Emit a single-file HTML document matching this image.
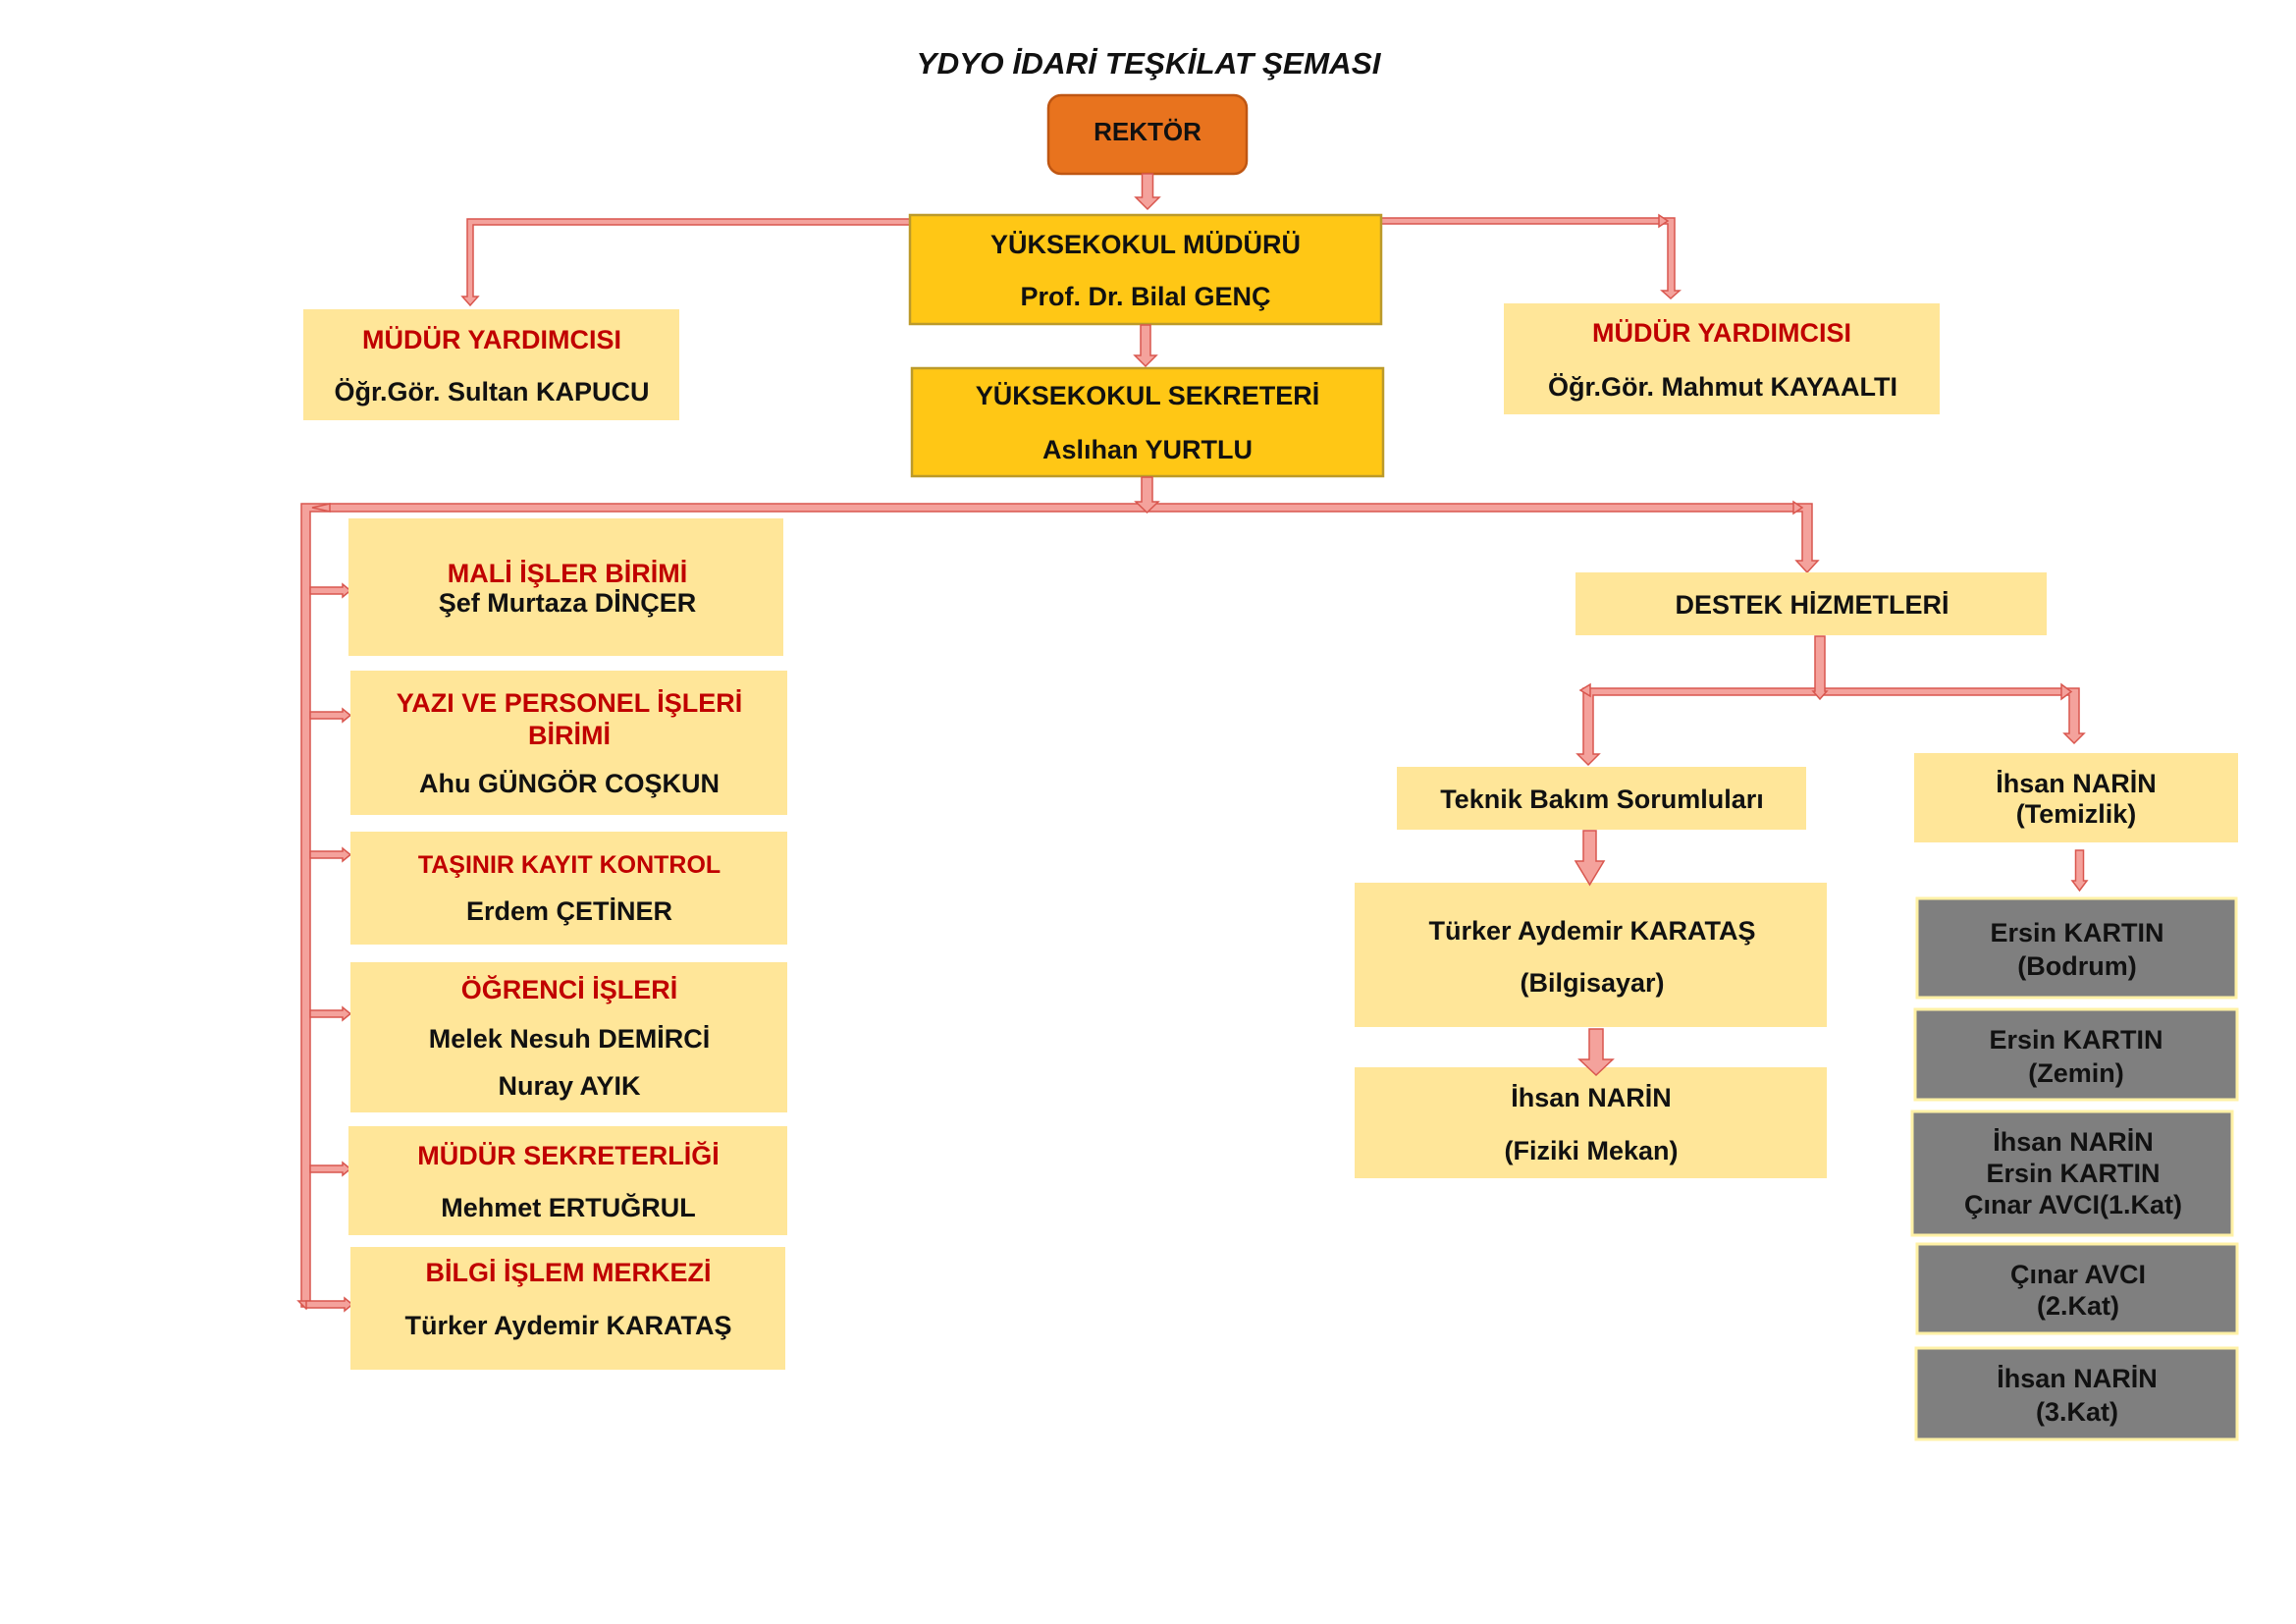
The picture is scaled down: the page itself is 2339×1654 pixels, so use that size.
<!DOCTYPE html>
<html>
<head>
<meta charset="utf-8">
<style>
html,body{margin:0;padding:0;background:#ffffff;}
svg{display:block;}
text{font-family:"Liberation Sans",Arial,sans-serif;font-weight:bold;text-anchor:middle;fill:#111111;}
.r{fill:#C00000;}
.ar{fill:#F4A29C;stroke:#D9564E;stroke-width:1.5;stroke-linejoin:miter;}
.lb{fill:#FFE699;}
.gb{fill:#7F7F7F;stroke:#FFF1A6;stroke-width:3;}
.yb{fill:#FFC715;stroke:#BC9A2A;stroke-width:2.5;}
</style>
</head>
<body>
<svg width="2339" height="1654" viewBox="0 0 2339 1654" xmlns="http://www.w3.org/2000/svg">
<rect x="0" y="0" width="2339" height="1654" fill="#ffffff"/>

<!-- Title -->
<text x="1170" y="75" style="font-size:31px;font-style:italic;" textLength="473" lengthAdjust="spacingAndGlyphs">YDYO İDARİ TEŞKİLAT ŞEMASI</text>

<!-- Connectors (drawn before boxes) -->
<!-- left MY connector -->
<polygon class="ar" points="927,223 476,223 476,302 471,302 479,311 487,302 482,302 482,229 927,229"/>
<!-- right MY connector -->
<polygon class="ar" points="1407,222 1706,222 1706,296 1711,296 1702,304 1693,296 1699,296 1699,228 1407,228"/>
<polygon class="ar" points="1690,219 1699,225 1690,231"/>

<!-- Sekreter main bus -->
<polygon class="ar" points="307,513 1846,513 1846,571 1852,571 1841,583 1830,571 1836,571 1836,521 316,521 316,1331 307,1331"/>
<polygon class="ar" points="336,513 318,517 336,521"/>
<polygon class="ar" points="1827,511 1836,517 1827,523"/>
<polygon class="ar" points="304,1325 312,1333 316,1325"/>

<!-- left branch arrows -->
<polygon class="ar" points="316,598 349,598 349,595 357,601.5 349,608 349,605 316,605"/>
<polygon class="ar" points="316,725 349,725 349,722 357,728.5 349,735 349,732 316,732"/>
<polygon class="ar" points="316,867 349,867 349,864 357,870.5 349,877 349,874 316,874"/>
<polygon class="ar" points="316,1029 349,1029 349,1026 357,1032.5 349,1039 349,1036 316,1036"/>
<polygon class="ar" points="316,1187 349,1187 349,1184 357,1190.5 349,1197 349,1194 316,1194"/>
<polygon class="ar" points="312,1325 351,1325 351,1322 359,1328.5 351,1335 351,1332 312,1332"/>

<!-- Destek network -->
<polygon class="ar" points="1613,701 2118,701 2118,747 2123,747 2113,757 2103,747 2108,747 2108,708 1623,708 1623,768 1629,768 1618,779 1607,768 1613,768"/>
<polygon class="ar" points="1620,697 1610,703 1620,709"/>
<polygon class="ar" points="2100,697 2110,704.5 2100,712"/>

<!-- Boxes -->
<rect x="1068" y="97" width="202" height="80" rx="13" ry="13" fill="#E8731E" stroke="#BF5612" stroke-width="2.5"/>
<rect class="yb" x="927" y="219" width="480" height="111"/>
<rect class="yb" x="929" y="375" width="480" height="110"/>

<rect class="lb" x="309" y="315" width="383" height="113"/>
<rect class="lb" x="1532" y="309" width="444" height="113"/>

<rect class="lb" x="355" y="528" width="443" height="140"/>
<rect class="lb" x="357" y="683" width="445" height="147"/>
<rect class="lb" x="357" y="847" width="445" height="115"/>
<rect class="lb" x="357" y="980" width="445" height="153"/>
<rect class="lb" x="355" y="1147" width="447" height="111"/>
<rect class="lb" x="357" y="1270" width="443" height="125"/>

<rect class="lb" x="1605" y="583" width="480" height="64"/>
<rect class="lb" x="1423" y="781" width="417" height="64"/>
<rect class="lb" x="1380" y="899" width="481" height="147"/>
<rect class="lb" x="1380" y="1087" width="481" height="113"/>
<rect class="lb" x="1950" y="767" width="330" height="91"/>

<rect class="gb" x="1953" y="915" width="325" height="101"/>
<rect class="gb" x="1951" y="1028" width="328" height="92"/>
<rect class="gb" x="1948" y="1132" width="326" height="126"/>
<rect class="gb" x="1953" y="1267" width="326" height="91"/>
<rect class="gb" x="1952" y="1373" width="327" height="93"/>

<!-- Vertical arrows (over boxes) -->
<polygon class="ar" points="1163.5,177 1174.5,177 1174.5,201 1181,201 1169,213 1157,201 1163.5,201"/>
<polygon class="ar" points="1162,331 1172,331 1172,362 1178,362 1167,373 1156,362 1162,362"/>
<polygon class="ar" points="1163,486 1174,486 1174,511 1180,511 1168.5,522 1157,511 1163,511"/>
<polygon class="ar" points="1849,648 1859,648 1859,704 1861,704 1854,712 1847,704 1849,704"/>
<polygon class="ar" points="1613,846 1626,846 1626,877 1634,877 1619.5,901 1605,877 1613,877"/>
<polygon class="ar" points="1619,1048 1633,1048 1633,1079 1643,1079 1626,1095 1609,1079 1619,1079"/>
<polygon class="ar" points="2114.5,866 2122.5,866 2122.5,897 2126,897 2118.5,907 2111,897 2114.5,897"/>

<!-- Texts -->
<text x="1169" y="143" style="font-size:26px;">REKTÖR</text>

<text x="1167" y="258" style="font-size:27px;">YÜKSEKOKUL MÜDÜRÜ</text>
<text x="1167" y="311" style="font-size:27px;">Prof. Dr. Bilal GENÇ</text>

<text x="1169" y="412" style="font-size:27px;">YÜKSEKOKUL SEKRETERİ</text>
<text x="1169" y="467" style="font-size:27px;">Aslıhan YURTLU</text>

<text class="r" x="501" y="355" style="font-size:27px;">MÜDÜR YARDIMCISI</text>
<text x="501" y="408" style="font-size:27px;">Öğr.Gör. Sultan KAPUCU</text>

<text class="r" x="1754" y="348" style="font-size:27px;">MÜDÜR YARDIMCISI</text>
<text x="1755" y="403" style="font-size:27px;">Öğr.Gör. Mahmut KAYAALTI</text>

<text class="r" x="578" y="593" style="font-size:27px;">MALİ İŞLER BİRİMİ</text>
<text x="578" y="623" style="font-size:27px;">Şef Murtaza DİNÇER</text>

<text class="r" x="580" y="725" style="font-size:27px;">YAZI VE PERSONEL İŞLERİ</text>
<text class="r" x="580" y="758" style="font-size:27px;">BİRİMİ</text>
<text x="580" y="807" style="font-size:27px;">Ahu GÜNGÖR COŞKUN</text>

<text class="r" x="580" y="889" style="font-size:25px;">TAŞINIR KAYIT KONTROL</text>
<text x="580" y="937" style="font-size:27px;">Erdem ÇETİNER</text>

<text class="r" x="580" y="1017" style="font-size:27px;">ÖĞRENCİ İŞLERİ</text>
<text x="580" y="1067" style="font-size:27px;">Melek Nesuh DEMİRCİ</text>
<text x="580" y="1115" style="font-size:27px;">Nuray AYIK</text>

<text class="r" x="579" y="1186" style="font-size:27px;">MÜDÜR SEKRETERLİĞİ</text>
<text x="579" y="1239" style="font-size:27px;">Mehmet ERTUĞRUL</text>

<text class="r" x="579" y="1305" style="font-size:27px;">BİLGİ İŞLEM MERKEZİ</text>
<text x="579" y="1359" style="font-size:27px;">Türker Aydemir KARATAŞ</text>

<text x="1846" y="625" style="font-size:27px;">DESTEK HİZMETLERİ</text>

<text x="1632" y="823" style="font-size:27px;">Teknik Bakım Sorumluları</text>

<text x="1622" y="957" style="font-size:27px;">Türker Aydemir KARATAŞ</text>
<text x="1622" y="1010" style="font-size:27px;">(Bilgisayar)</text>

<text x="1621" y="1127" style="font-size:27px;">İhsan NARİN</text>
<text x="1621" y="1181" style="font-size:27px;">(Fiziki Mekan)</text>

<text x="2115" y="807" style="font-size:27px;">İhsan NARİN</text>
<text x="2115" y="838" style="font-size:27px;">(Temizlik)</text>

<text x="2116" y="959" style="font-size:27px;">Ersin KARTIN</text>
<text x="2116" y="993" style="font-size:27px;">(Bodrum)</text>

<text x="2115" y="1068" style="font-size:27px;">Ersin KARTIN</text>
<text x="2115" y="1102" style="font-size:27px;">(Zemin)</text>

<text x="2112" y="1172" style="font-size:27px;">İhsan NARİN</text>
<text x="2112" y="1204" style="font-size:27px;">Ersin KARTIN</text>
<text x="2112" y="1236" style="font-size:27px;">Çınar AVCI(1.Kat)</text>

<text x="2117" y="1307" style="font-size:27px;">Çınar AVCI</text>
<text x="2117" y="1339" style="font-size:27px;">(2.Kat)</text>

<text x="2116" y="1413" style="font-size:27px;">İhsan NARİN</text>
<text x="2116" y="1447" style="font-size:27px;">(3.Kat)</text>
</svg>
</body>
</html>
